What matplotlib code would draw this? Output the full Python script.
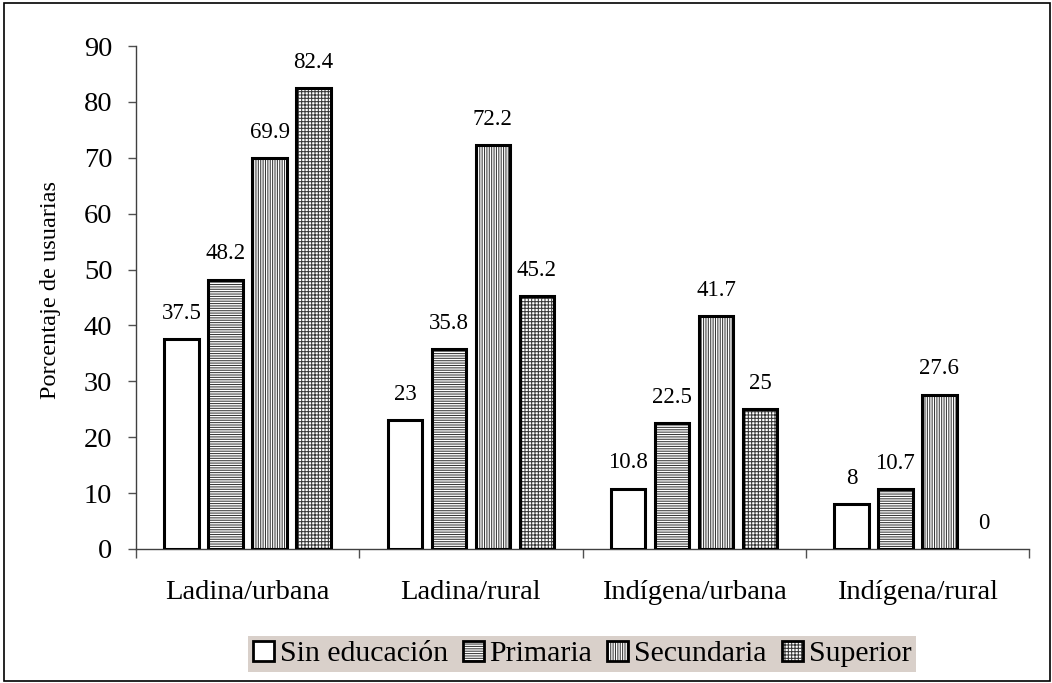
import matplotlib
matplotlib.use("Agg")
import matplotlib.pyplot as plt
from matplotlib.patches import Patch, Rectangle
from matplotlib.legend_handler import HandlerTuple
import numpy as np

categories = ["Ladina/urbana", "Ladina/rural", "Indígena/urbana", "Indígena/rural"]
series_names = ["Sin educación", "Primaria", "Secundaria", "Superior"]
sin_educacion = [37.5, 23, 10.8, 8]
primaria = [48.2, 35.8, 22.5, 10.7]
secundaria = [69.9, 72.2, 41.7, 27.6]
superior = [82.4, 45.2, 25, 0]
y_ticks = [0, 10, 20, 30, 40, 50, 60, 70, 80, 90]
y_label = "Porcentaje de usuarias"

series = [sin_educacion, primaria, secundaria, superior]
hatches = [None, "-------", "|||||||", "+++++"]

plt.rcParams["font.family"] = ["Liberation Serif", "DejaVu Serif"]
plt.rcParams["hatch.linewidth"] = 0.75

W, H = 1052, 683
fig = plt.figure(figsize=(W / 100, H / 100), dpi=100)
fig.patch.set_facecolor("white")

def fx(px):
    return px / W

def fy(py):
    return 1 - py / H

ax = fig.add_axes([fx(136), fy(549), fx(1029) - fx(136), fy(46) - fy(549)])

x = np.arange(len(categories))
bw = 0.155
step = 0.197
hatch_col = "#3a3a3a"
for i, vals in enumerate(series):
    pos = x + (i - 1.5) * step
    vals_arr = np.array(vals, dtype=float)
    nz = vals_arr > 0
    if hatches[i]:
        ax.bar(pos[nz], vals_arr[nz], bw, color="white", edgecolor=hatch_col, hatch=hatches[i],
               linewidth=0, zorder=2)
    else:
        ax.bar(pos[nz], vals_arr[nz], bw, color="white", linewidth=0, zorder=2)
    ax.bar(pos[nz], vals_arr[nz], bw, fill=False, edgecolor="black", linewidth=2.2, zorder=3)
    for xp, v in zip(pos, vals):
        ax.annotate(f"{v:g}", (xp, v), xytext=(0, 11), textcoords="offset points",
                    ha="center", va="bottom", fontsize=16.5, color="black")

ax.set_xlim(-0.5, len(categories) - 0.5)
ax.set_ylim(0, 90)
ax.set_yticks(y_ticks)
ax.tick_params(axis="y", labelsize=20.5, length=6, width=1, color="#505050", pad=11)
ax.set_xticks(np.arange(len(categories) + 1) - 0.5)
ax.set_xticklabels([])
ax.tick_params(axis="x", which="major", length=6.5, width=1, color="#505050", direction="out")
ax.set_xticks(x, minor=True)
ax.set_xticklabels(categories, minor=True)
ax.tick_params(axis="x", which="minor", length=0, labelsize=20.5, pad=22)

for s in ["top", "right"]:
    ax.spines[s].set_visible(False)
for s in ["left", "bottom"]:
    ax.spines[s].set_color("#404040")
    ax.spines[s].set_linewidth(1.0)

fig.text(fx(51), fy(290), y_label, rotation=90, ha="center", va="center", fontsize=17.5)

handles = []
for i in range(4):
    if hatches[i]:
        p1 = Patch(facecolor="white", edgecolor=hatch_col, hatch=hatches[i], linewidth=0)
    else:
        p1 = Patch(facecolor="white", linewidth=0)
    p2 = Patch(fill=False, edgecolor="black", linewidth=2.0)
    handles.append((p1, p2))

leg = fig.legend(handles, series_names, loc="center", bbox_to_anchor=(fx(582), fy(654)),
                 ncol=4, frameon=True, fancybox=False, fontsize=21.5,
                 handler_map={tuple: HandlerTuple(ndivide=1, pad=0)},
                 handlelength=0.7, handleheight=0.7, handletextpad=0.2, columnspacing=0.5,
                 borderpad=0.15, borderaxespad=0)
leg.get_frame().set_facecolor("#d9d0ca")
leg.get_frame().set_edgecolor("none")
leg.get_frame().set_alpha(1)

border = Rectangle((fx(4), fy(681)), fx(1050) - fx(4), fy(3) - fy(681), transform=fig.transFigure,
                   fill=False, edgecolor="black", linewidth=1.2)
fig.patches.append(border)

fig.savefig("out.png", dpi=100)
